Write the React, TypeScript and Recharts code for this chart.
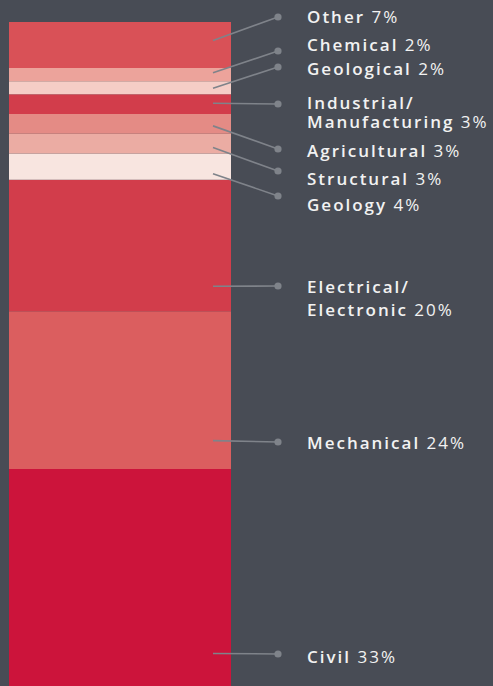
import { BarChart, Bar, XAxis, YAxis, LabelList } from 'recharts'

// bottom-to-top stacking order
const fields = ['Civil', 'Mechanical', 'Electrical/ Electronic', 'Geology', 'Structural', 'Agricultural', 'Industrial/ Manufacturing', 'Geological', 'Chemical', 'Other']
const shares = [33, 24, 20, 4, 3, 3, 3, 2, 2, 7]

const colors = ['#cc143b', '#db5e5f', '#d23d4b', '#f8e5e0', '#ebaca3', '#e48b85', '#d23d4b', '#f5cdc6', '#eca39b', '#d95157']

// where each leader line leaves the bar (fraction of the segment from its top), and where the dot / text sit
const leaders = [
  { anchor: 0.85, dotY: 654, textY: 656, gap: 0 },
  { anchor: 0.82, dotY: 442, textY: 442, gap: 0 },
  { anchor: 0.81, dotY: 286, textY: 286, gap: 23 },
  { anchor: 0.77, dotY: 196, textY: 204, gap: 0 },
  { anchor: 0.7, dotY: 171, textY: 178, gap: 0 },
  { anchor: 0.6, dotY: 149, textY: 150, gap: 0 },
  { anchor: 0.45, dotY: 104, textY: 102, gap: 19 },
  { anchor: 0.54, dotY: 67, textY: 68, gap: 0 },
  { anchor: 0.36, dotY: 51, textY: 44, gap: 0 },
  { anchor: 0.4, dotY: 17, textY: 16, gap: 0 },
]

const row: Record<string, number | string> = { name: 'Disciplines' }
fields.forEach((f, i) => { row[f] = shares[i] })
const data = [row]

const makeLabel = (i: number) => (props: any) => {
  const box = props.viewBox && props.viewBox.width != null ? props.viewBox : props
  const { x, y, width, height } = box
  const lead = leaders[i]
  const startX = x + width - 18
  const startY = y + height * lead.anchor
  const dotX = 278
  const lines = fields[i].split(' ')
  return (
    <g>
      <line x1={startX} y1={startY} x2={dotX} y2={lead.dotY} stroke="#7f838a" strokeWidth={1.6} />
      <circle cx={dotX} cy={lead.dotY} r={3.6} fill="#7f838a" />
      <text
        x={307}
        y={lead.textY}
        dominantBaseline="central"
        fill="#f2f2f2"
        fontSize={17}
        letterSpacing={2}
        fontFamily="'Open Sans', sans-serif"
      >
        {lines.map((ln, k) => (
          <tspan key={k} x={307} dy={k === 0 ? 0 : lead.gap}>
            <tspan fontWeight={600}>{ln}</tspan>
            {k === lines.length - 1 && <tspan fontWeight={400}>{' ' + shares[i] + '%'}</tspan>}
          </tspan>
        ))}
      </text>
    </g>
  )
}

export default function App() {
  return (
    <div style={{ position: 'absolute', left: 0, top: 0, width: 493, height: 686, background: '#484c55', overflow: 'hidden' }}>
      <BarChart width={493} height={686} data={data} margin={{ top: 22, right: 262, bottom: 0, left: 9 }} barCategoryGap={0}>
        <XAxis dataKey="name" hide />
        <YAxis hide domain={[0, 101]} />
        {fields.map((f, i) => (
          <Bar key={f} dataKey={f} stackId="a" fill={colors[i]} isAnimationActive={false}>
            <LabelList dataKey={f} content={makeLabel(i)} />
          </Bar>
        ))}
      </BarChart>
    </div>
  )
}
